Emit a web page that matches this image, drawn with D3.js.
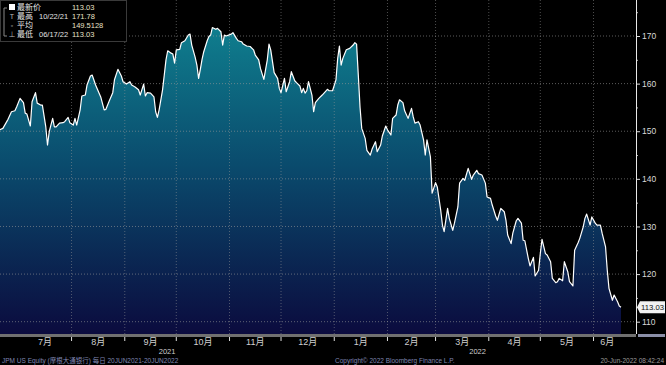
<!DOCTYPE html>
<html>
<head>
<meta charset="utf-8">
<script src="https://cdn.jsdelivr.net/npm/d3@7"></script>
<style>
  body { margin: 0; background: #000; }
  svg { display: block; }
  text { font-family: "Liberation Sans", "Noto Sans CJK SC", sans-serif; }
</style>
</head>
<body>
<div id="chart"></div>
<script>
// 日期 / 收盘价
const dates = [
  "2021-06-20","2021-06-22","2021-06-25","2021-06-27","2021-06-29","2021-06-30","2021-07-02","2021-07-04","2021-07-05","2021-07-06",
  "2021-07-08","2021-07-09","2021-07-11","2021-07-12","2021-07-14","2021-07-15","2021-07-17","2021-07-18","2021-07-19","2021-07-21",
  "2021-07-22","2021-07-23","2021-07-25","2021-07-27","2021-07-28","2021-07-30","2021-07-31","2021-08-02","2021-08-03","2021-08-04",
  "2021-08-06","2021-08-07","2021-08-09","2021-08-10","2021-08-12","2021-08-13","2021-08-15","2021-08-18","2021-08-20","2021-08-21",
  "2021-08-23","2021-08-25","2021-08-26","2021-08-28","2021-08-30","2021-08-31","2021-09-02","2021-09-04","2021-09-05","2021-09-07",
  "2021-09-09","2021-09-10","2021-09-12","2021-09-13","2021-09-14","2021-09-16","2021-09-18","2021-09-19","2021-09-20","2021-09-21",
  "2021-09-23","2021-09-24","2021-09-25","2021-09-26","2021-09-28","2021-09-29","2021-09-30","2021-10-01","2021-10-03","2021-10-04",
  "2021-10-06","2021-10-08","2021-10-09","2021-10-10","2021-10-12","2021-10-13","2021-10-14","2021-10-15","2021-10-16","2021-10-17",
  "2021-10-19","2021-10-20","2021-10-21","2021-10-22","2021-10-24","2021-10-25","2021-10-27","2021-10-28","2021-10-29","2021-10-30",
  "2021-11-02","2021-11-03","2021-11-05","2021-11-06","2021-11-08","2021-11-09","2021-11-11","2021-11-13","2021-11-15","2021-11-16",
  "2021-11-18","2021-11-19","2021-11-21","2021-11-23","2021-11-24","2021-11-25","2021-11-27","2021-11-29","2021-11-30","2021-12-01",
  "2021-12-03","2021-12-04","2021-12-06","2021-12-07","2021-12-09","2021-12-10","2021-12-12","2021-12-13","2021-12-14","2021-12-15",
  "2021-12-16","2021-12-17","2021-12-19","2021-12-20","2021-12-21","2021-12-23","2021-12-25","2021-12-28","2021-12-29","2021-12-31",
  "2022-01-02","2022-01-03","2022-01-04","2022-01-05","2022-01-06","2022-01-08","2022-01-10","2022-01-12","2022-01-13","2022-01-14",
  "2022-01-15","2022-01-16","2022-01-17","2022-01-19","2022-01-20","2022-01-22","2022-01-23","2022-01-25","2022-01-26","2022-01-28",
  "2022-01-29","2022-01-31","2022-02-01","2022-02-03","2022-02-04","2022-02-06","2022-02-07","2022-02-08","2022-02-10","2022-02-11",
  "2022-02-13","2022-02-15","2022-02-16","2022-02-17","2022-02-19","2022-02-20","2022-02-22","2022-02-23","2022-02-24","2022-02-26",
  "2022-02-27","2022-03-01","2022-03-02","2022-03-04","2022-03-05","2022-03-06","2022-03-08","2022-03-09","2022-03-11","2022-03-12",
  "2022-03-14","2022-03-15","2022-03-17","2022-03-18","2022-03-20","2022-03-22","2022-03-23","2022-03-25","2022-03-26","2022-03-28",
  "2022-03-30","2022-03-31","2022-04-02","2022-04-03","2022-04-05","2022-04-06","2022-04-08","2022-04-10","2022-04-11","2022-04-12",
  "2022-04-14","2022-04-15","2022-04-17","2022-04-18","2022-04-20","2022-04-21","2022-04-22","2022-04-24","2022-04-25","2022-04-27",
  "2022-04-28","2022-04-30","2022-05-01","2022-05-02","2022-05-04","2022-05-05","2022-05-07","2022-05-08","2022-05-10","2022-05-11",
  "2022-05-12","2022-05-14","2022-05-15","2022-05-17","2022-05-18","2022-05-20","2022-05-21","2022-05-23","2022-05-24","2022-05-26",
  "2022-05-27","2022-05-28","2022-05-30","2022-05-31","2022-06-02","2022-06-03","2022-06-05","2022-06-06","2022-06-08","2022-06-09",
  "2022-06-10","2022-06-12","2022-06-13","2022-06-15","2022-06-16","2022-06-17"
];
const values = [
  150.3,150.6,152.5,154.1,154.3,155.1,156.9,156.0,153.8,153.6,
  151.1,156.2,158.1,155.9,155.5,155.5,150.9,147.1,149.9,152.7,
  150.9,150.9,151.7,151.8,152.0,152.9,151.8,151.3,152.7,151.3,
  154.5,157.4,157.6,159.7,161.6,161.8,159.7,157.2,154.5,154.6,
  156.4,158.1,160.8,163.0,161.6,160.4,159.9,160.4,159.7,159.3,
  158.7,157.6,159.9,157.4,158.1,158.0,157.2,154.1,152.9,154.5,
  158.7,161.8,165.0,166.9,166.4,166.2,164.3,167.1,167.2,168.6,
  169.0,170.2,170.4,168.1,165.5,163.9,161.1,163.0,165.1,166.7,
  169.0,169.9,170.2,171.78,171.4,171.6,170.9,168.1,170.2,170.0,
  170.4,170.7,169.5,169.0,168.8,168.3,167.9,167.8,167.1,166.0,
  165.0,163.2,160.9,165.0,168.3,167.1,162.3,161.1,159.0,158.1,
  161.1,158.3,160.4,162.5,160.6,160.2,159.5,158.1,159.0,158.0,
  158.5,160.4,157.6,154.1,156.0,156.9,157.6,158.8,158.5,158.5,
  160.8,165.3,167.9,163.9,165.3,167.1,167.4,168.1,168.6,168.3,
  161.8,155.1,150.6,148.5,146.0,145.0,146.2,147.8,145.7,147.1,
  149.0,151.1,150.3,149.2,152.7,153.4,155.5,156.6,156.0,154.3,
  152.7,154.8,153.0,151.7,152.0,151.3,148.2,145.0,148.2,144.6,
  137.0,139.2,138.3,133.4,130.3,128.9,133.8,131.7,129.2,130.7,
  134.1,139.1,140.1,139.7,142.2,139.9,140.8,141.8,141.1,140.8,
  139.1,136.2,135.9,134.5,132.2,131.3,133.8,133.1,131.3,128.2,
  126.4,128.6,131.2,131.7,130.7,127.1,127.0,123.3,121.7,123.5,
  119.6,120.8,124.3,127.3,124.3,124.0,122.6,119.1,118.2,118.4,
  119.1,118.6,122.6,120.5,118.4,117.5,125.0,126.6,127.5,129.9,
  131.7,132.6,130.3,132.0,130.7,130.3,130.3,128.6,125.7,120.8,
  117.0,114.5,115.6,114.2,113.3,113.03
];

// 坐标轴
const yTicks = [110, 120, 130, 140, 150, 160, 170];
const yMinorTicks = [115, 125, 135, 145, 155, 165, 175];
const monthLabels = ["7月","8月","9月","10月","11月","12月","1月","2月","3月","4月","5月","6月"];
const yearLabels = ["2021", "2022"];

// 图例
const legendNames = ["最新价", "最高", "平均", "最低"];
const legendDates = ["", "10/22/21", "", "06/17/22"];
const legendValues = ["113.03", "171.78", "149.5128", "113.03"];
const lastValue = 113.03;

const footerLeft = "JPM US Equity (摩根大通银行)   每日 20JUN2021-20JUN2022";
const footerMid = "Copyright© 2022 Bloomberg Finance L.P.";
const footerRight = "20-Jun-2022 08:42:24";

const width = 666, height = 365;
const plotRight = 636, plotBottom = 334;

const parseDate = d3.timeParse("%Y-%m-%d");
const data = dates.map((d, i) => ({ date: parseDate(d), value: values[i] }));

const x = d3.scaleTime()
  .domain([new Date(2021, 5, 18), new Date(2022, 5, 17)])
  .range([-4, 621]);
const y = d3.scaleLinear()
  .domain([110, 170])
  .range([321.7, 36]);

const svg = d3.select("#chart").append("svg")
  .attr("width", width)
  .attr("height", height)
  .style("background", "#000");

// 渐变填充
const grad = svg.append("defs").append("linearGradient")
  .attr("id", "fillGrad")
  .attr("gradientUnits", "userSpaceOnUse")
  .attr("x1", 0).attr("x2", 0)
  .attr("y1", y(172)).attr("y2", plotBottom);
grad.append("stop").attr("offset", "0%").attr("stop-color", "#0f7e8e");
grad.append("stop").attr("offset", "45%").attr("stop-color", "#0a4b6d");
grad.append("stop").attr("offset", "100%").attr("stop-color", "#0b0b3e");

const area = d3.area()
  .x(d => x(d.date))
  .y0(plotBottom)
  .y1(d => y(d.value));
const line = d3.line()
  .x(d => x(d.date))
  .y(d => y(d.value));

svg.append("path")
  .datum(data)
  .attr("d", area)
  .attr("fill", "url(#fillGrad)");

// 网格线
const monthStarts = d3.timeMonth.range(new Date(2021, 6, 1), new Date(2022, 5, 2));
svg.append("g")
  .selectAll("line")
  .data(yTicks)
  .join("line")
  .attr("x1", 0).attr("x2", plotRight)
  .attr("y1", d => y(d)).attr("y2", d => y(d))
  .attr("stroke", "#9a9a9a")
  .attr("stroke-opacity", 0.6)
  .attr("stroke-dasharray", "1,2");
svg.append("g")
  .selectAll("line")
  .data(monthStarts.slice(1))
  .join("line")
  .attr("x1", d => x(d)).attr("x2", d => x(d))
  .attr("y1", 0).attr("y2", plotBottom)
  .attr("stroke", "#9a9a9a")
  .attr("stroke-opacity", 0.5)
  .attr("stroke-dasharray", "1,2");

svg.append("path")
  .datum(data)
  .attr("d", line)
  .attr("fill", "none")
  .attr("stroke", "#fff")
  .attr("stroke-width", 1.2)
  .attr("stroke-linejoin", "round");

// 右侧坐标轴
const yAxis = g => g
  .attr("transform", `translate(${plotRight},0)`)
  .call(d3.axisRight(y).tickValues(yTicks).tickSize(4).tickPadding(2).tickFormat(d3.format("d")))
  .call(g => g.select(".domain").remove())
  .call(g => g.selectAll("line").attr("stroke", "#ddd"))
  .call(g => g.selectAll("text").attr("fill", "#d8d8d8").attr("font-size", 8.5));
svg.append("g").call(yAxis);
svg.append("g")
  .attr("transform", `translate(${plotRight},0)`)
  .call(d3.axisRight(y).tickValues(yMinorTicks).tickSize(2).tickFormat(""))
  .call(g => g.select(".domain").remove())
  .call(g => g.selectAll("line").attr("stroke", "#bbb"));
svg.append("line")
  .attr("x1", plotRight + 0.5).attr("x2", plotRight + 0.5)
  .attr("y1", 0).attr("y2", plotBottom)
  .attr("stroke", "#e8e8e8").attr("stroke-width", 1);

// 最新值标签
const ly = y(lastValue);
svg.append("path")
  .attr("d", `M${plotRight + 1},${ly} L${plotRight + 4},${ly - 6} H${width - 1} V${ly + 6} H${plotRight + 4} Z`)
  .attr("fill", "#f2f2f2");
svg.append("text")
  .attr("x", plotRight + 5).attr("y", ly + 3)
  .attr("font-size", 7.5).attr("fill", "#111")
  .attr("textLength", 23).attr("lengthAdjust", "spacingAndGlyphs")
  .text(d3.format(".2f")(lastValue));

// 底部坐标轴
svg.append("rect")
  .attr("x", 0).attr("y", plotBottom)
  .attr("width", plotRight).attr("height", 3)
  .attr("fill", "#707070");
svg.append("rect")
  .attr("x", plotRight + 2).attr("y", plotBottom)
  .attr("width", width - plotRight - 3).attr("height", 3)
  .attr("fill", "#8b8fa8");
svg.append("g")
  .selectAll("line")
  .data(monthStarts.slice(1))
  .join("line")
  .attr("x1", d => x(d)).attr("x2", d => x(d))
  .attr("y1", plotBottom + 3).attr("y2", plotBottom + 7)
  .attr("stroke", "#ddd");

const x0 = Math.max(0, x.range()[0]);
const xEnd = x.range()[1];
svg.append("g")
  .selectAll("text")
  .data(monthStarts)
  .join("text")
  .attr("x", d => {
    const a = Math.max(x(d), x0);
    const b = Math.min(x(d3.timeMonth.offset(d, 1)), xEnd);
    return (a + b) / 2;
  })
  .attr("y", 345)
  .attr("text-anchor", "middle")
  .attr("font-size", 9)
  .attr("fill", "#cfcfcf")
  .attr("font-family", "Noto Sans CJK SC, sans-serif")
  .text((d, i) => monthLabels[i]);

const yearStarts = [new Date(2021, 0, 1), new Date(2022, 0, 1)];
svg.append("g")
  .selectAll("text")
  .data(yearStarts)
  .join("text")
  .attr("x", d => {
    const a = Math.max(x(d), x0);
    const b = Math.min(x(d3.timeYear.offset(d, 1)), xEnd);
    return (a + b) / 2;
  })
  .attr("y", 354)
  .attr("text-anchor", "middle")
  .attr("font-size", 7.5)
  .attr("fill", "#cfcfcf")
  .text((d, i) => yearLabels[i]);

// 页脚
svg.append("text")
  .attr("x", 2).attr("y", 363)
  .attr("font-size", 6.5).attr("fill", "#7f86b0")
  .text(footerLeft);
svg.append("text")
  .attr("x", 335).attr("y", 363)
  .attr("font-size", 6.5).attr("fill", "#7f86b0")
  .text(footerMid);
svg.append("text")
  .attr("x", width - 2).attr("y", 363)
  .attr("text-anchor", "end")
  .attr("font-size", 6.5).attr("fill", "#9a9a9a")
  .text(footerRight);

// 图例
const legend = svg.append("g");
legend.append("rect")
  .attr("x", 0.5).attr("y", 0.5)
  .attr("width", 126).attr("height", 41)
  .attr("fill", "#000").attr("stroke", "#3a3a3a");
legend.append("path")
  .attr("d", "M4,8 V36 M4,8 H7 M4,36 H7")
  .attr("fill", "none").attr("stroke", "#888");
legend.append("rect")
  .attr("x", 9).attr("y", 4).attr("width", 6).attr("height", 6)
  .attr("fill", "#fff");
const markers = ["", "T", "▫", "⊥"];
legendNames.forEach((name, i) => {
  const ty = 10 + i * 9;
  if (i > 0) {
    legend.append("text").attr("x", 12).attr("y", ty).attr("text-anchor", "middle")
      .attr("font-size", 7).attr("fill", "#bbb").text(markers[i]);
  }
  legend.append("text").attr("x", 17).attr("y", ty)
    .attr("font-size", 8).attr("fill", "#e6e6e6")
    .attr("font-family", "Noto Sans CJK SC, sans-serif")
    .text(name);
  legend.append("text").attr("x", 39).attr("y", ty)
    .attr("font-size", 7.5).attr("fill", "#e0e0e0")
    .text(legendDates[i]);
  legend.append("text").attr("x", 72).attr("y", ty)
    .attr("font-size", 7.5).attr("fill", "#e8e0c8")
    .text(legendValues[i]);
});
</script>
</body>
</html>
